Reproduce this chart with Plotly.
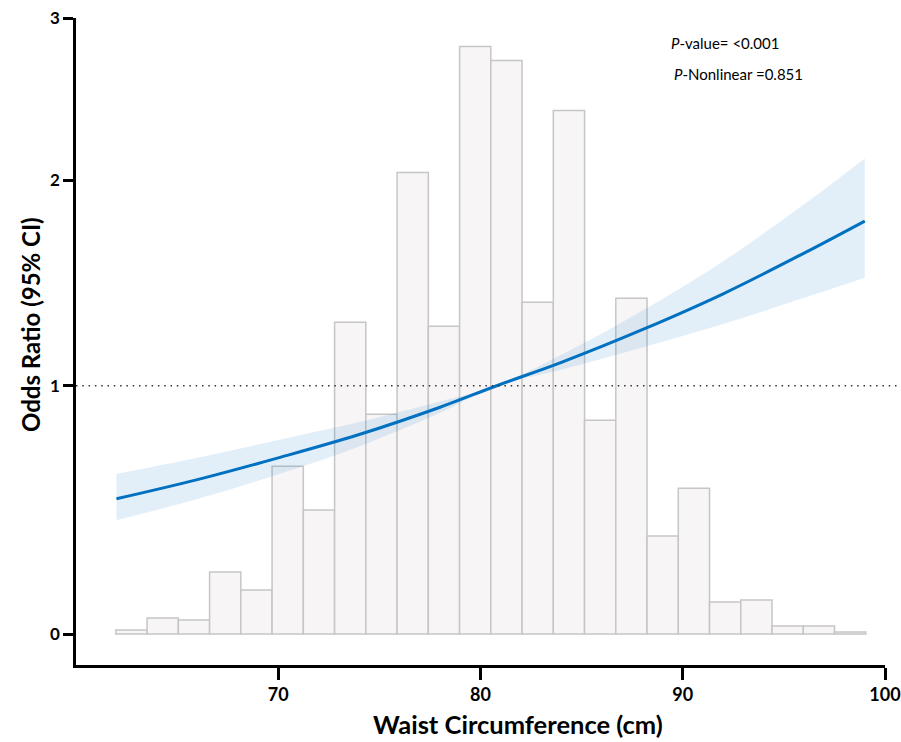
import plotly.graph_objects as go

# ---- Data ----
# Histogram of waist circumference (24 equal bins)
bin_start = 61.97
bin_width = 1.545
bin_counts = [2, 8, 7, 31, 22, 84, 62, 156, 110, 231, 154, 294, 287, 166,
              262, 107, 168, 49, 73, 16, 17, 4, 4, 1]

# Restricted cubic spline: odds ratio and 95% CI
waist = [62, 66, 70, 74, 78, 80.8, 84, 88, 92, 96, 99]
or_est = [0.523, 0.601, 0.691, 0.789, 0.906, 1.0, 1.104, 1.253, 1.422, 1.621, 1.784]
or_low = [0.437, 0.522, 0.623, 0.739, 0.882, 1.0, 1.071, 1.171, 1.279, 1.403, 1.500]
or_high = [0.625, 0.692, 0.766, 0.842, 0.931, 1.0, 1.138, 1.341, 1.581, 1.872, 2.121]

y_ticks = [0, 1, 2, 3]
x_ticks = [70, 80, 90, 100]
ref_or = 1

p_text = ["<i>P</i>-value= &lt;0.001", "<i>P</i>-Nonlinear =0.851"]


# The odds-ratio axis of the reference is compressed toward the top;
# this maps an odds ratio to the (linear) plotting scale of that axis.
def or_scale(v):
    return 269.83 * v - 21.25 * v ** 2 - 0.0833 * v ** 3


bin_centers = [bin_start + bin_width * (i + 0.5) for i in range(len(bin_counts))]

FONT = "Lato"
BLUE = "#0070C0"

fig = go.Figure()

fig.add_trace(go.Bar(
    x=bin_centers, y=bin_counts, width=bin_width,
    marker=dict(color="#F7F5F6", line=dict(color="#C6C6C6", width=1.5)),
    yaxis="y", hoverinfo="skip", showlegend=False,
))

fig.add_trace(go.Scatter(
    x=waist, y=[or_scale(v) for v in or_low], yaxis="y2",
    mode="lines", line=dict(width=0, shape="spline", color=BLUE),
    hoverinfo="skip", showlegend=False,
))
fig.add_trace(go.Scatter(
    x=waist, y=[or_scale(v) for v in or_high], yaxis="y2",
    mode="lines", line=dict(width=0, shape="spline", color=BLUE),
    fill="tonexty", fillcolor="rgba(0,112,192,0.11)",
    hoverinfo="skip", showlegend=False,
))
fig.add_trace(go.Scatter(
    x=waist, y=[or_scale(v) for v in or_est], yaxis="y2",
    mode="lines", line=dict(width=3, shape="spline", color=BLUE),
    showlegend=False,
))

fig.add_shape(type="line", xref="paper", yref="y2",
              x0=0, x1=1.019, y0=or_scale(ref_or), y1=or_scale(ref_or),
              line=dict(color="#333333", width=1.5, dash="1.5px,4.8px"),
              layer="above")

fig.update_layout(
    width=901, height=742,
    margin=dict(l=76, r=16, t=18, b=77, autoexpand=False),
    paper_bgcolor="white", plot_bgcolor="white",
    showlegend=False,
    font=dict(family=FONT, color="black"),
    xaxis=dict(
        range=[60, 100], tickvals=x_ticks, ticktext=[str(t) for t in x_ticks],
        showgrid=False, zeroline=False, automargin=False,
        showline=True, linecolor="black", linewidth=2.5,
        ticks="outside", ticklen=12, tickwidth=2.5, tickcolor="black",
        tickfont=dict(family=FONT, size=18, color="black", weight="bold"),
        anchor="y",
    ),
    yaxis=dict(
        range=[-15.5, 308.25], visible=False, fixedrange=True, automargin=False,
    ),
    yaxis2=dict(
        overlaying="y", side="left", anchor="x",
        range=[-31, 616.5], automargin=False,
        tickvals=[or_scale(t) for t in y_ticks],
        ticktext=[str(t) for t in y_ticks],
        showgrid=False, zeroline=False,
        showline=True, linecolor="black", linewidth=2.5,
        ticks="outside", ticklen=10, tickwidth=2.5, tickcolor="black",
        tickfont=dict(family=FONT, size=17, color="black", weight="bold"),
    ),
    annotations=[
        dict(text="Waist Circumference (cm)", xref="paper", yref="paper",
             x=(518 - 76) / 809, y=-(724 - 665) / 647, xanchor="center", yanchor="middle",
             showarrow=False, font=dict(family=FONT, size=25.5, color="black", weight="bold")),
        dict(text="Odds Ratio (95% CI)", xref="paper", yref="paper",
             x=-(76 - 30) / 809, y=(665 - 325) / 647, xanchor="center", yanchor="middle",
             textangle=-90,
             showarrow=False, font=dict(family=FONT, size=24, color="black", weight="bold")),
        dict(text=p_text[0], xref="paper", yref="paper",
             x=(669 - 76) / 809, y=(665 - 43) / 647, xanchor="left", yanchor="middle",
             showarrow=False, font=dict(family=FONT, size=15, color="black")),
        dict(text=p_text[1], xref="paper", yref="paper",
             x=(672 - 76) / 809, y=(665 - 74) / 647, xanchor="left", yanchor="middle",
             showarrow=False, font=dict(family=FONT, size=15, color="black")),
    ],
)

fig.write_html(
    "out.html",
    config={"displayModeBar": False},
    post_script="document.body.style.margin='0';document.body.style.overflow='hidden';",
)
